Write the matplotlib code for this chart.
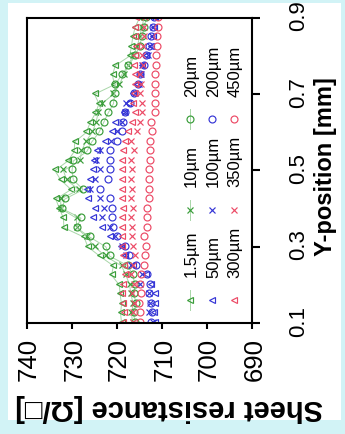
import numpy as np
import matplotlib
matplotlib.use('Agg')
import matplotlib.pyplot as plt
from matplotlib.patches import Rectangle

plt.rcParams['font.family'] = ['Liberation Sans', 'DejaVu Sans']

# Y-position of each measuring point [mm]
pos = [0.100, 0.125, 0.150, 0.175, 0.200, 0.225, 0.250, 0.275, 0.300, 0.325, 0.350,
       0.375, 0.400, 0.425, 0.450, 0.475, 0.500, 0.525, 0.550, 0.575, 0.600, 0.625,
       0.650, 0.675, 0.700, 0.725, 0.750, 0.775, 0.800, 0.825, 0.850, 0.875, 0.900]

# sheet resistance [ohm/sq] per film thickness
rs_1p5 = [719.0, 719.2, 719.0, 719.3, 719.5, 721.2, 720.8, 723.8, 726.5, 727.3, 731.8,
          731.9, 732.8, 733.6, 730.2, 732.5, 733.8, 730.9, 729.5, 729.4, 726.8, 726.0,
          724.8, 724.0, 725.0, 720.6, 721.0, 720.4, 717.2, 716.8, 716.5, 716.0, 715.0]
rs_10 = [716.5, 716.8, 716.4, 716.9, 717.2, 718.0, 719.0, 722.5, 725.0, 726.7, 729.0,
         729.0, 732.5, 732.5, 728.5, 731.2, 731.9, 728.2, 727.9, 727.0, 725.5, 724.7,
         724.2, 723.4, 720.8, 719.5, 718.5, 717.5, 716.5, 715.5, 715.0, 714.5, 714.0]
rs_20 = [716.0, 716.3, 715.8, 716.2, 716.0, 716.5, 717.5, 721.6, 722.5, 726.0, 729.0,
         728.0, 732.2, 731.6, 727.5, 729.7, 730.0, 729.7, 726.7, 725.6, 724.0, 723.0,
         722.0, 720.8, 720.5, 720.4, 719.0, 717.5, 716.0, 715.0, 714.5, 714.0, 713.5]
rs_50 = [711.5, 711.8, 711.6, 711.6, 712.5, 713.5, 716.5, 718.2, 719.2, 721.6, 723.4,
         725.3, 724.9, 726.4, 726.7, 726.0, 725.3, 725.2, 724.5, 722.7, 721.2, 720.4,
         718.5, 717.6, 716.5, 715.5, 715.0, 714.5, 713.5, 712.5, 712.0, 711.8, 711.5]
rs_100 = [712.0, 712.8, 712.6, 713.0, 714.9, 714.5, 716.8, 717.9, 718.8, 720.4, 721.6,
          723.4, 723.0, 723.8, 726.0, 725.0, 723.8, 724.6, 723.8, 721.3, 720.1, 719.0,
          718.2, 717.9, 716.0, 715.2, 714.6, 714.4, 713.2, 712.6, 712.3, 711.9, 711.6]
rs_200 = [712.4, 712.2, 712.5, 712.8, 712.7, 713.4, 715.8, 717.3, 718.3, 719.9, 720.8,
          721.2, 721.2, 721.6, 723.8, 721.9, 721.6, 721.6, 721.6, 720.1, 719.0, 718.6,
          718.2, 717.2, 716.3, 715.4, 714.8, 714.0, 713.6, 712.9, 712.4, 712.0, 711.7]
rs_300 = [718.7, 718.5, 718.6, 718.8, 718.6, 718.3, 718.4, 718.7, 718.8, 719.0, 718.9,
          719.0, 718.6, 719.0, 719.0, 719.0, 719.0, 719.0, 718.6, 718.2, 717.5, 716.7,
          716.0, 716.4, 716.2, 716.0, 716.1, 716.3, 716.0, 715.8, 715.9, 716.0, 715.7]
rs_350 = [716.4, 716.5, 716.2, 716.6, 716.3, 716.9, 716.5, 716.0, 716.4, 716.6, 716.6,
          716.9, 716.5, 716.8, 716.7, 716.9, 716.6, 716.8, 716.3, 717.0, 715.6, 714.9,
          714.5, 714.5, 715.0, 714.6, 714.8, 714.2, 714.4, 714.3, 714.0, 713.9, 713.8]
rs_450 = [715.0, 714.8, 715.2, 714.6, 715.0, 714.7, 714.1, 713.8, 713.5, 713.9, 713.4,
          713.4, 713.4, 713.0, 713.0, 713.0, 713.0, 712.7, 712.7, 712.7, 712.3, 712.5,
          711.6, 711.5, 711.6, 711.6, 711.6, 711.4, 711.3, 711.2, 711.1, 711.0, 710.9]

labels = ['1.5\u00b5m', '10\u00b5m', '20\u00b5m', '50\u00b5m', '100\u00b5m', '200\u00b5m',
          '300\u00b5m', '350\u00b5m', '450\u00b5m']
series = [rs_1p5, rs_10, rs_20, rs_50, rs_100, rs_200, rs_300, rs_350, rs_450]
markers = ['^', 'x', 'o'] * 3

GREEN = '#3a9d3a'
GREEN_LINE = '#a8d6a8'
BLUE = '#3535d6'
RED = '#ec4a66'
colors = [GREEN] * 3 + [BLUE] * 3 + [RED] * 3

W, H = 434, 345
fig = plt.figure(figsize=(W / 100, H / 100), dpi=100)
fig.patch.set_facecolor('#d2f3f6')
fig.add_artist(Rectangle((14 / W, 4 / H), (431 - 14) / W, (337 - 4) / H,
                         transform=fig.transFigure, facecolor='white',
                         edgecolor='none', zorder=-5))

ax = fig.add_axes([111 / W, 1 - 252 / H, (416 - 111) / W, (252 - 27) / H])

handles = []
for k, (y, lab, m, c) in enumerate(zip(series, labels, markers, colors)):
    ls = '-' if k < 3 else 'none'
    h, = ax.plot(pos, y, linestyle=ls, color=GREEN_LINE, linewidth=0.7,
                 marker=m, markersize=5, markerfacecolor='none',
                 markeredgecolor=c, markeredgewidth=0.85, label=lab)
    handles.append(h)

ax.set_xlim(0.1, 0.9)
ax.set_ylim(690, 740)
ax.set_xticks([0.1, 0.3, 0.5, 0.7, 0.9])
ax.set_yticks([690, 700, 710, 720, 730, 740])
for s in ax.spines.values():
    s.set_linewidth(1.5)
ax.tick_params(axis='x', direction='out', length=6, width=1.5, pad=20, labelsize=16)
ax.tick_params(axis='y', direction='out', length=4.5, width=1.5, pad=8, labelsize=18.5)

ax.set_xlabel('Y-position [mm]', fontsize=17, fontweight='bold')
ax.xaxis.set_label_coords(0.51, -0.27)
ax.set_ylabel('Sheet resistance [\u03a9/\u25a1]', fontsize=21, fontweight='bold')
ax.yaxis.set_label_coords(-0.235, 0.375)

# legend filled column by column: reorder so rows read 1.5/10/20, 50/100/200, ...
order = [0, 3, 6, 1, 4, 7, 2, 5, 8]
ax.legend([handles[i] for i in order], [labels[i] for i in order], ncol=3,
          loc='upper left', bbox_to_anchor=(123 / W, 1 - 184 / H),
          bbox_transform=fig.transFigure, frameon=False, fontsize=12,
          handlelength=1.2, handletextpad=0.7, columnspacing=0.45,
          labelspacing=0.4, borderpad=0, borderaxespad=0)

fig.canvas.draw()
img = np.asarray(fig.canvas.buffer_rgba())
# the chart is shown turned a quarter turn to the left
plt.imsave('out.png', np.rot90(img))
